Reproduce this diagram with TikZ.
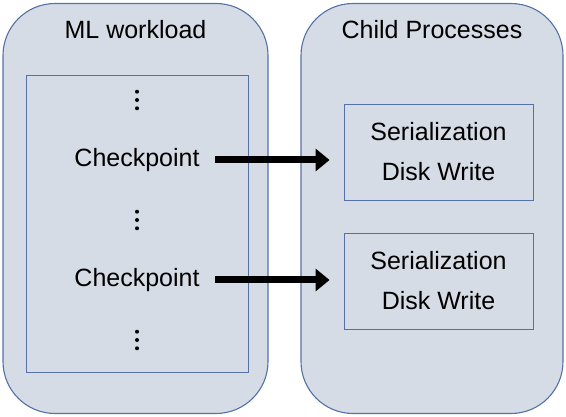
\documentclass[tikz,border=0pt]{standalone}
\usepackage{fontspec}
\setmainfont{Liberation Sans}
\usetikzlibrary{arrows.meta,positioning}
\definecolor{boxfill}{RGB}{214,220,229}
\definecolor{boxline}{RGB}{84,114,166}

\begin{document}
\begin{tikzpicture}[x=1pt,y=1pt,node distance=60pt,
every node/.style={font=\fontsize{25}{30}\selectfont},
outer box/.style={draw=boxline,fill=boxfill,line width=1.1pt,rounded corners=52pt,minimum height=410pt},
inner box/.style={draw=boxline,line width=0.9pt},
task box/.style={inner box,minimum width=189pt,minimum height=96pt,align=center,font=\fontsize{25}{40}\selectfont},
gap dots/.style={minimum size=24pt,path picture={
	\fill (path picture bounding box.center) circle (2pt) +(0,8.3pt) circle (2pt) +(0,-8.3pt) circle (2pt);}},
big arrow/.style={-{Triangle[length=14pt,width=22pt]},line width=7pt,shorten <=12pt,shorten >=14pt}]

\useasboundingbox (0,0) rectangle (566,-417);

% left side
\node[outer box,minimum width=265pt] (ml) at (135.5,-208.5) {};
\node (mltitle) at ([yshift=-27pt]ml.north) {ML workload};
\node[inner box,minimum width=222pt,minimum height=297pt] (loop) at (137,-223.5) {};

\node[gap dots] (dots1) at (137,-100) {};
\node (cp1) [below of=dots1] {Checkpoint};
\node[gap dots] (dots2) [below of=cp1] {};
\node (cp2) [below of=dots2] {Checkpoint};
\node[gap dots] (dots3) [below of=cp2] {};

% right side
\node[outer box,minimum width=262pt] (child) at (432,-208.5) {};
\node (childtitle) at ([yshift=-27pt]child.north) {Child Processes};

\node[task box] (task1) at (438.5,-152) {Serialization\\Disk Write};
\node[task box] (task2) [below of=task1,node distance=129pt] {Serialization\\Disk Write};

\path[big arrow]
	(cp1) edge (cp1 -| task1.west)
	(cp2) edge (cp2 -| task2.west);

\end{tikzpicture}
\end{document}
